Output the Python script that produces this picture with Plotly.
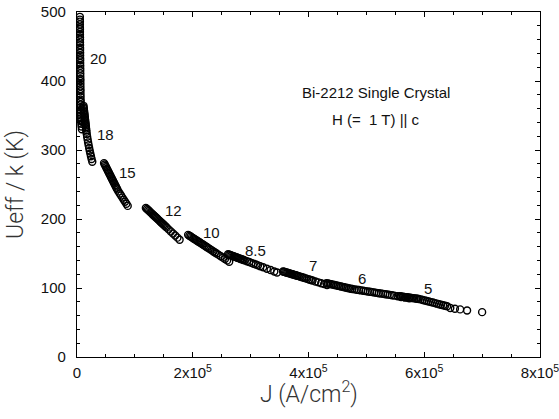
import plotly.graph_objects as go

# Effective pinning barrier Ueff/k versus current density J for a
# Bi-2212 single crystal, H = 1 T parallel to c. One run per temperature.
# J values are in kA/cm^2, Ueff/k in K.

J_20 = [4.9, 4.9, 5.0, 5.0, 5.0, 5.1, 5.1, 5.1, 5.2, 5.2,
        5.2, 5.3, 5.3, 5.3, 5.4, 5.4, 5.4, 5.5, 5.5, 5.6,
        5.6, 5.6, 5.7, 5.7, 5.8, 5.8, 5.9, 5.9, 6.0, 6.0,
        6.1, 6.2, 6.2, 6.3, 6.4, 6.5, 6.6, 6.7, 6.8, 7.0,
        7.2, 7.5, 7.9, 8.4]
U_20 = [493, 489, 486, 482, 478, 475, 471, 467, 463, 460,
        456, 452, 448, 445, 441, 437, 433, 430, 426, 422,
        418, 415, 411, 407, 403, 400, 396, 392, 388, 385,
        381, 377, 373, 370, 366, 362, 358, 354, 350, 346,
        342, 338, 334, 330]

J_18 = [11.2, 11.5, 11.8, 12.1, 12.4, 12.7, 13.0, 13.3, 13.6, 13.9,
        14.2, 14.5, 14.8, 15.1, 15.4, 15.7, 16.0, 16.3,
        16.9, 17.6, 18.4, 19.2, 20.1, 21.0, 22.0, 23.0, 24.1, 25.2, 26.4]
U_18 = [364, 361.8, 359.6, 357.4, 355.2, 353, 350.8, 348.6, 346.4, 344.2,
        342, 339.8, 337.6, 335.4, 333.2, 331, 328.8, 326.6,
        323, 319, 315, 311, 307, 303, 299, 295, 291, 287, 283]

J_15 = [46.7, 47.9, 49.1, 50.3, 51.5, 52.7, 53.9, 55.1, 56.3, 57.5,
        58.7, 59.9, 61.1, 62.3, 63.5, 64.7, 65.9, 67.1, 68.3, 69.5,
        71.5, 73.8, 76.1, 78.4, 80.7, 83.0, 85.3, 87.6]
U_15 = [281, 279, 277, 275, 273, 271, 269, 267, 265, 263,
        261, 259, 257, 255, 253, 251, 249, 247, 245, 243,
        240, 237, 234, 231, 228, 225, 222, 219]

J_12 = [119.0, 120.9, 122.8, 124.7, 126.6, 128.5, 130.4, 132.3, 134.2, 136.1,
        138.0, 139.9, 141.8, 143.7, 145.6, 147.5, 149.4, 151.3, 153.2, 155.1,
        158.3, 162.1, 165.9, 169.7, 173.5, 177.3]
U_12 = [216, 214.5, 213, 211.5, 210, 208.5, 207, 205.5, 204, 202.5,
        201, 199.5, 198, 196.5, 195, 193.5, 192, 190.5, 189, 187.5,
        185, 182, 179, 176, 173, 170]

J_10 = [192, 194.2, 196.4, 198.6, 200.7, 202.9, 205.1, 207.3, 209.5, 211.7,
        213.9, 216.1, 218.3, 220.5, 222.7, 224.8, 227.5, 230.3, 233.0, 235.7,
        238.4, 241.2, 244.8, 248.4, 252.1, 255.7, 259.4, 263.0]
U_10 = [177, 175.8, 174.6, 173.4, 172.2, 171, 169.8, 168.6, 167.4, 166.2,
        165, 163.8, 162.6, 161.4, 160.2, 159, 157.5, 156, 154.5, 153,
        151.5, 150, 148, 146, 144, 142, 140, 138]

J_85 = [261, 262.9, 264.8, 266.7, 268.7, 270.6, 272.5, 274.4, 276.3, 278.2,
        280.1, 282.1, 284.0, 285.9, 287.8, 289.7, 293.6, 297.5, 301.3, 305.1,
        309.0, 312.8, 316.6, 321.7, 328.1, 334.5, 340.9, 345.7]
U_85 = [149, 148.4, 147.8, 147.2, 146.6, 146, 145.4, 144.8, 144.2, 143.6,
        143, 142.4, 141.8, 141.2, 140.6, 140, 138.8, 137.6, 136.4, 135.2,
        134, 132.8, 131.6, 130, 128, 126, 124, 122.5]

J_7 = [356, 357.8, 359.6, 361.4, 363.2, 365, 366.8, 368.6, 370.4, 372.2,
       374, 375.8, 377.6, 379.4, 381.2, 383, 386, 389, 392, 395,
       398, 401, 404, 407, 412, 417, 422, 427, 432]
U_7 = [124.0, 123.5, 123.0, 122.6, 122.1, 121.7, 121.2, 120.8, 120.3, 119.9,
       119.4, 119.0, 118.5, 118.1, 117.6, 117.2, 116.4, 115.6, 114.8, 114.0,
       113.2, 112.4, 111.6, 110.8, 109.5, 108.2, 106.9, 105.6, 104.3]

J_6 = [431, 433.8, 436.6, 439.4, 442.2, 445, 447.8, 450.6, 453.4, 456.2,
       459, 461.8, 464.6, 467.4, 470.2, 473, 475.8, 479.6, 483.4, 487.2,
       491, 494.8, 498.6, 502.4, 506.2, 510, 513.8, 517.6, 521.4, 525.2,
       529, 532.8, 536.6, 540.4, 544.2, 548, 554, 560, 567, 574]
U_6 = [107, 106.5, 105.9, 105.4, 104.9, 104.3, 103.8, 103.3, 102.7, 102.2,
       101.7, 101.1, 100.6, 100.1, 99.5, 99.0, 98.5, 98.0, 97.5, 97.0,
       96.5, 96.0, 95.5, 95.0, 94.5, 94.0, 93.5, 93.0, 92.5, 92.0,
       91.5, 91.0, 90.5, 90.0, 89.5, 89.0, 88, 87, 86, 85]

J_5 = [558, 560.5, 563, 565.5, 568, 570.5, 573, 575.5, 578, 580.5,
       583, 585.5, 588, 590.5, 594, 597.5, 601, 604.5, 608, 611.5,
       615, 618.5, 622, 625.5, 629, 632.5, 636, 639.5, 645, 653,
       662, 674, 700]
U_5 = [88.0, 87.7, 87.4, 87.1, 86.8, 86.5, 86.2, 85.9, 85.6, 85.3,
       85.0, 84.7, 84.4, 84.1, 83.5, 82.7, 81.9, 81.2, 80.4, 79.6,
       78.9, 78.1, 77.3, 76.5, 75.8, 75.0, 74.2, 73.5, 71, 70,
       69, 67.5, 65]

TEMP_LABELS = ["20", "18", "15", "12", "10", "8.5", "7", "6", "5"]
LABEL_J = [36.3, 48.4, 86.5, 166, 233, 309, 408, 493, 607]   # kA/cm^2
LABEL_U = [433, 322, 267, 213, 180, 155, 133, 114.5, 100]    # K

X_TICKS = [0, 2e5, 4e5, 6e5, 8e5]
X_TICK_TEXT = ["0", "2x10<sup>5</sup>", "4x10<sup>5</sup>",
               "6x10<sup>5</sup>", "8x10<sup>5</sup>"]
Y_TICKS = [0, 100, 200, 300, 400, 500]

runs = [
    ("20", J_20, U_20), ("18", J_18, U_18), ("15", J_15, U_15),
    ("12", J_12, U_12), ("10", J_10, U_10), ("8.5", J_85, U_85),
    ("7", J_7, U_7), ("6", J_6, U_6), ("5", J_5, U_5),
]

FONT = "Liberation Sans, Arial, Helvetica, sans-serif"
LIGHT_FONT = "Roboto, Liberation Sans, Arial, sans-serif"
INK = "#111111"
TITLE_INK = "#333333"

fig = go.Figure()
for name, j_k, u in runs:
    fig.add_trace(go.Scatter(
        x=[v * 1e3 for v in j_k], y=u, mode="markers", name=name + " K",
        marker=dict(symbol="circle-open", size=7, color="black",
                    line=dict(width=1.4, color="black")),
    ))

for txt, jx, uy in zip(TEMP_LABELS, LABEL_J, LABEL_U):
    fig.add_annotation(x=jx * 1e3, y=uy, text=txt, showarrow=False,
                       xanchor="center", yanchor="middle",
                       font=dict(size=15, color=INK, family=FONT))

fig.add_annotation(xref="paper", yref="paper", x=0.646, y=0.768,
                   xanchor="center", yanchor="middle",
                   text="Bi-2212 Single Crystal", showarrow=False,
                   font=dict(size=15, color=INK, family=FONT))
fig.add_annotation(xref="paper", yref="paper", x=0.646, y=0.687,
                   xanchor="center", yanchor="middle",
                   text="H (=  1 T) || c", showarrow=False,
                   font=dict(size=15, color=INK, family=FONT))

# x-axis title placed just under the tick labels
fig.add_annotation(xref="paper", yref="paper", x=0.5, y=-0.103,
                   xanchor="center", yanchor="middle",
                   text="J (A/cm<sup>2</sup>)", showarrow=False,
                   font=dict(size=23, color=TITLE_INK, family=LIGHT_FONT,
                             weight=300))

axis_common = dict(
    showline=True, linecolor="black", linewidth=1.3, mirror="ticks",
    ticks="inside", ticklen=5, tickwidth=1, tickcolor="black",
    showgrid=False, zeroline=False, automargin=False,
    tickfont=dict(size=15, color=INK, family=FONT),
)

fig.update_layout(
    width=559, height=419,
    margin=dict(l=77, r=19, t=12, b=62, autoexpand=False),
    plot_bgcolor="white", paper_bgcolor="white",
    showlegend=False,
    font=dict(family=FONT, color=INK),
    xaxis=dict(
        range=[0, 8e5], tickmode="array", tickvals=X_TICKS, ticktext=X_TICK_TEXT,
        ticklabeloverflow="allow", ticklabelstandoff=2,
        minor=dict(tickmode="linear", tick0=0, dtick=5e4, ticks="inside",
                   ticklen=3, tickcolor="black"),
        **axis_common,
    ),
    yaxis=dict(
        range=[0, 500], tickmode="array", tickvals=Y_TICKS,
        ticklabelstandoff=7,
        minor=dict(tickmode="linear", tick0=0, dtick=20, ticks="inside",
                   ticklen=3, tickcolor="black"),
        title=dict(text="Ueff / k (K)", standoff=10,
                   font=dict(size=23, color=TITLE_INK, family=LIGHT_FONT,
                             weight=300)),
        **axis_common,
    ),
)

fig.write_html("out.html")
